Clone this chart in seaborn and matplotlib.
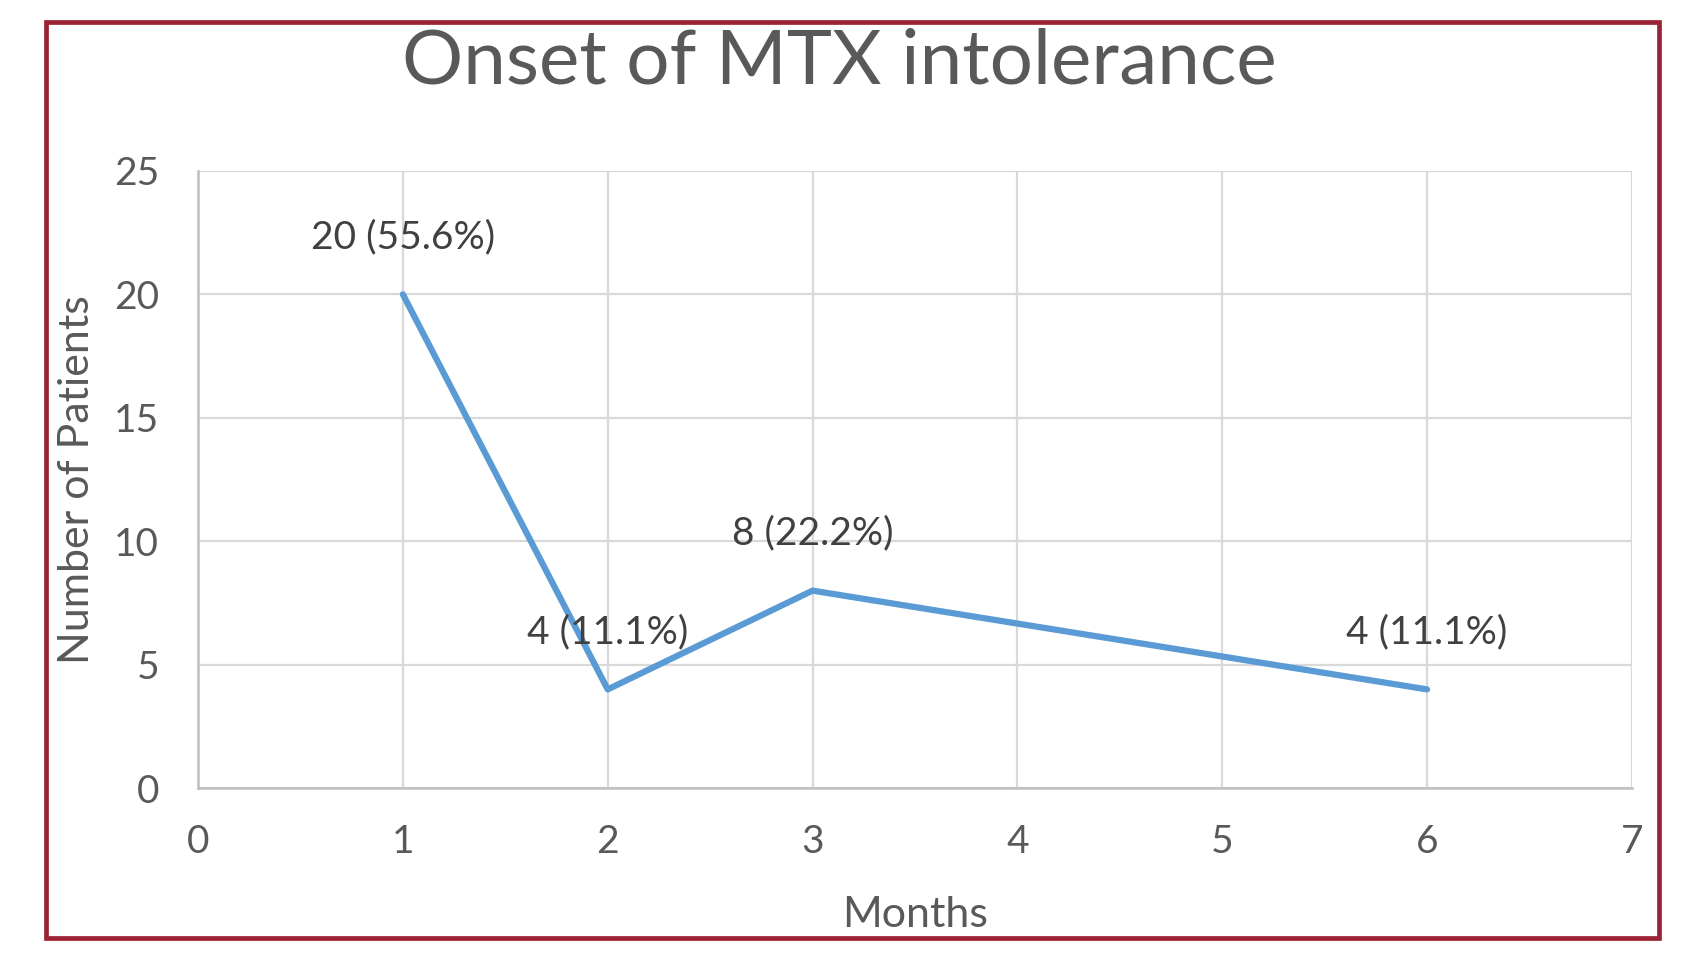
import matplotlib
matplotlib.use("Agg")
import matplotlib.pyplot as plt
import seaborn as sns
import pandas as pd
from matplotlib.patches import Rectangle

months = [1, 2, 3, 6]
patients = [20, 4, 8, 4]
labels = ["20 (55.6%)", "4 (11.1%)", "8 (22.2%)", "4 (11.1%)"]

sns.set_style("white")
plt.rcParams['font.family'] = ['Lato', 'DejaVu Sans']

df = pd.DataFrame({"Months": months, "Patients": patients})

fig = plt.figure(figsize=(17.07, 9.6), dpi=100)
ax = fig.add_axes([0.116, 0.179, 0.840, 0.643])

sns.lineplot(data=df, x="Months", y="Patients", ax=ax, color="#5B9BD5", linewidth=4.5)

ax.set_xlim(0, 7)
ax.set_ylim(0, 25)
ax.set_xticks(range(0, 8))
ax.set_yticks(range(0, 26, 5))
ax.grid(True, color="#d9d9d9", linewidth=1.6)
ax.set_axisbelow(True)
for s in ["top", "right"]:
    ax.spines[s].set_visible(False)
for s in ["left", "bottom"]:
    ax.spines[s].set_color("#bfbfbf")
    ax.spines[s].set_linewidth(1.8)
ax.tick_params(axis="both", length=0, labelsize=28, colors="#595959")
ax.tick_params(axis="x", pad=26)
ax.tick_params(axis="y", pad=28)

ax.set_xlabel("Months", fontsize=31, color="#595959", labelpad=26)
ax.set_ylabel("Number of Patients", fontsize=31, color="#595959", labelpad=13)

for x, y, t in zip(months, patients, labels):
    ax.annotate(t, (x, y), xytext=(0, 41), textcoords="offset points",
                ha="center", va="center", fontsize=28, color="#404040")

fig.text(0.492, 0.935, "Onset of MTX intolerance", ha="center", va="center",
         fontsize=55, color="#595959")

fig.patches.append(Rectangle((0.027, 0.023), 0.945, 0.954, transform=fig.transFigure,
                             fill=False, edgecolor="#9B2335", linewidth=3.4))

fig.savefig("out.png", dpi=100)
